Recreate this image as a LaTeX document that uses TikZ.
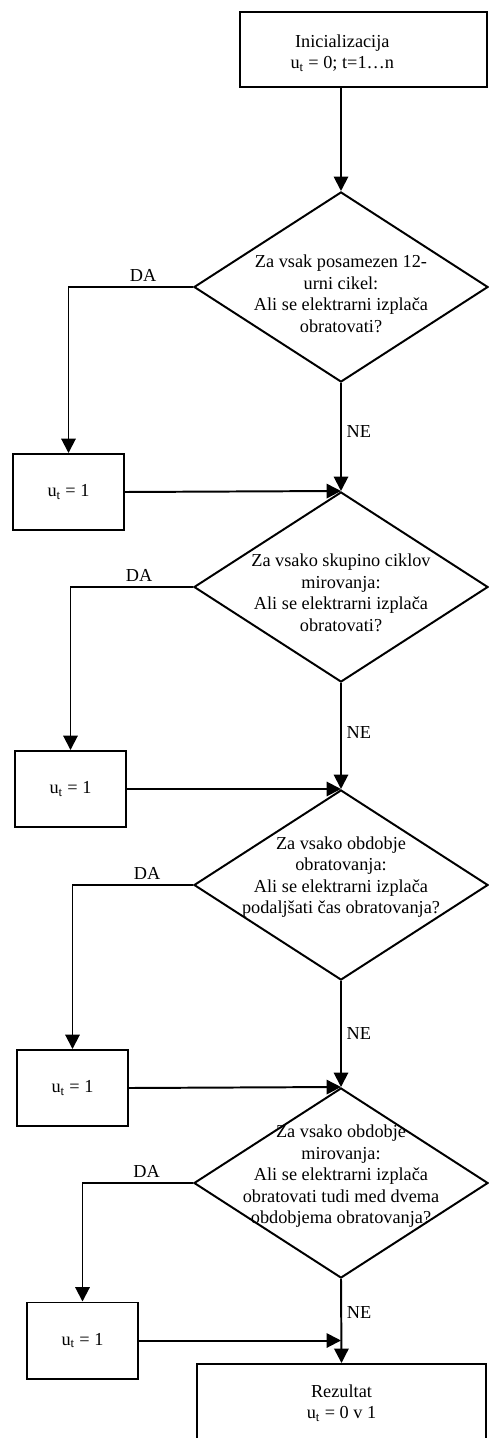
\documentclass[tikz,border=0pt]{standalone}
\usepackage{fontspec}
\setmainfont{Liberation Serif}
\usetikzlibrary{shapes.geometric,arrows.meta}

\begin{document}
\begin{tikzpicture}[x=0.025cm, y=-0.025cm, line width=1.4pt,
        font=\fontsize{13}{15.3}\selectfont,
        box/.style={draw, rectangle, minimum width=2.775cm, minimum height=1.9cm, inner sep=0pt},
        decision/.style={draw, diamond, minimum width=7.35cm, minimum height=4.75cm, inner sep=0pt},
        qtext/.style={align=center, inner sep=0pt},
        arr/.style={-{Triangle[length=0.36cm, width=0.36cm]}}]
    \useasboundingbox (0,0) rectangle (488,1438);
    \node[box, minimum width=6.175cm, minimum height=1.875cm,
        label={[qtext, xshift=-0.53cm, yshift=-0.09cm]center:{Inicializacija\\u\textsubscript{t} = 0; t=1\ldots n}}] (init) at (363.5,49.5) {};
    \node[decision, label={[qtext, yshift=-0.17cm]center:{Za vsak posamezen 12-\\urni cikel:\\Ali se elektrarni izplača\\obratovati?}}] (d1) at (341,287) {};
    \node[box] (b1) at (68.5,492) {u\textsubscript{t} = 1};
    \node[decision, label={[qtext, yshift=-0.15cm]center:{Za vsako skupino ciklov\\mirovanja:\\Ali se elektrarni izplača\\obratovati?}}] (d2) at (341,587) {};
    \node[box] (b2) at (70.5,789) {u\textsubscript{t} = 1};
    \node[decision, label={[qtext, yshift=0.2cm]center:{Za vsako obdobje\\obratovanja:\\Ali se elektrarni izplača\\podaljšati čas obratovanja?}}] (d3) at (341,885) {};
    \node[box] (b3) at (72.5,1088) {u\textsubscript{t} = 1};
    \node[decision, label={[qtext, yshift=0.17cm]center:{Za vsako obdobje\\mirovanja:\\Ali se elektrarni izplača\\obratovati tudi med dvema\\obdobjema obratovanja?}}] (d4) at (341,1183) {};
    \node[box] (b4) at (82.5,1340.5) {u\textsubscript{t} = 1};
    \node[box, minimum width=7.225cm, minimum height=1.95cm, align=center] (res) at (341.5,1403) {Rezultat\\u\textsubscript{t} = 0 v 1};

    \draw[arr] (d1.north |- init.south) -- (d1.north);
    \draw[arr] (d1.west) -| node[above, pos=0.2] {DA} (b1.north);
    \draw[arr] (d1.south) -- node[right, pos=0.45] {NE} (d2.north);
    \draw[arr] (b1.east) -- (d2.north);
    \draw[arr] (d2.west) -| node[above, pos=0.22] {DA} (b2.north);
    \draw[arr] (d2.south) -- node[right, pos=0.47] {NE} (d3.north);
    \draw[arr] (b2.east) -- (d3.north);
    \draw[arr] (d3.west) -| node[above, pos=0.19] {DA} (b3.north);
    \draw[arr] (d3.south) -- node[right, pos=0.5] {NE} (d4.north);
    \draw[arr] (b3.east) -- (d4.north);
    \draw[arr] (d4.west) -| node[above, pos=0.21] {DA} (b4.north);
    \draw[arr] (d4.south) -- node[right, pos=0.4] {NE} (res.north);
    \draw[arr] (b4.east) -- (b4.east -| d4.south);
\end{tikzpicture}
\end{document}
